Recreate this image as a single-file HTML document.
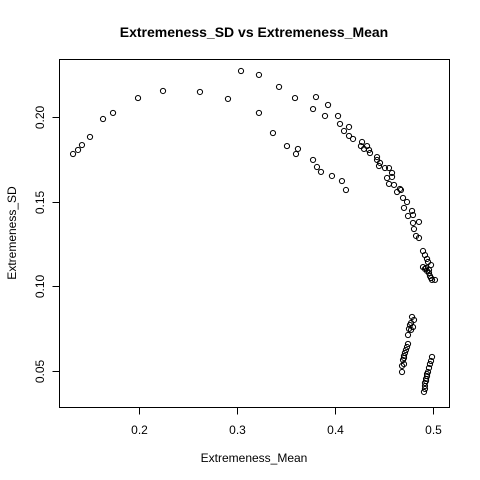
<!DOCTYPE html>
<html><head><meta charset="utf-8"><style>
html,body{margin:0;padding:0;background:#fff;}
svg{display:block;font-family:"Liberation Sans",Arial,sans-serif;}
</style></head><body>
<svg id="chart" width="480" height="480" viewBox="0 0 480 480">
<rect width="480" height="480" fill="#fff"/>
<text x="254" y="37" text-anchor="middle" font-size="14" font-weight="bold">Extremeness_SD vs Extremeness_Mean</text>
<text x="254" y="462" text-anchor="middle" font-size="12">Extremeness_Mean</text>
<text x="0" y="0" transform="translate(16,233) rotate(-90)" text-anchor="middle" font-size="12">Extremeness_SD</text>
<rect x="59.5" y="59.5" width="390" height="348" fill="none" stroke="#000" stroke-width="1"/>
<g id="xaxis"></g>
<g id="yaxis"></g>
<g id="points"></g>
</svg>
<script>
const xTicks = [0.2, 0.3, 0.4, 0.5];
const xTickLabels = ["0.2", "0.3", "0.4", "0.5"];
const yTicks = [0.05, 0.10, 0.15, 0.20];
const yTickLabels = ["0.05", "0.10", "0.15", "0.20"];
const meanValues = [
0.1327,0.1378,0.1418,0.15,0.1633,0.1735,0.199,0.2245,0.2622,0.2908,0.3041,0.3224,0.3429,0.3592,0.3224,0.3367,0.351,0.3622,0.3602,
0.3806,0.3776,0.3929,0.3898,0.4031,0.4051,0.4143,0.4092,0.4143,0.4184,0.4276,0.4265,0.4327,0.4296,0.4347,0.4357,0.4429,0.4429,0.4459,0.4449,0.451,0.4551,0.4582,0.4531,0.4582,0.4551,0.4602,0.4663,0.4633,0.4673,0.4694,0.4735,0.4704,0.4786,0.4796,0.4745,0.4796,0.4857,0.4806,0.4827,0.4857,
0.3776,0.3816,0.3857,0.3969,0.4071,0.4112,
0.4898,0.4918,0.4939,0.4949,0.498,0.4898,0.4918,0.4939,0.4959,0.4969,0.498,0.499,0.502,0.4959,0.4929,
0.4786,0.4806,0.4776,0.4765,0.4796,0.4755,0.4776,0.4745,
0.4745,0.4735,0.4724,0.4714,0.4704,0.4704,0.4694,0.4704,0.4684,0.4684,
0.499,0.498,0.4969,0.4959,0.4949,0.4939,0.4929,0.4918,0.4918,0.4918,0.4908,0.4929,0.4939];
const sdValues = [
0.1781,0.1805,0.1834,0.1882,0.1988,0.2024,0.2112,0.2154,0.2148,0.2107,0.2272,0.2249,0.2178,0.2112,0.2024,0.1905,0.1828,0.1811,0.1781,
0.2118,0.2047,0.2071,0.2006,0.2006,0.1959,0.1941,0.1917,0.1888,0.187,0.1852,0.1828,0.1828,0.1811,0.1805,0.1787,0.1763,0.1746,0.1728,0.171,0.1698,0.1698,0.1669,0.1639,0.1645,0.1604,0.1598,0.1574,0.1556,0.1568,0.1521,0.1497,0.1462,0.1444,0.142,0.1414,0.1373,0.1379,0.1337,0.1296,0.1284,
0.1746,0.1704,0.1675,0.1651,0.1621,0.1568,
0.1207,0.1183,0.116,0.1142,0.1124,0.1112,0.1101,0.1089,0.1077,0.1059,0.1047,0.1036,0.1036,0.1095,0.1107,
0.0817,0.0799,0.0781,0.0769,0.0757,0.0746,0.074,0.071,
0.0657,0.0639,0.0621,0.0604,0.0586,0.0574,0.0562,0.0538,0.0527,0.0491,
0.058,0.0556,0.0538,0.0515,0.0491,0.0467,0.045,0.0426,0.0408,0.0391,0.0373,0.0438,0.0479];

const NS = "http://www.w3.org/2000/svg";
function xScale(v){ return 139 + (v - 0.2) * 980; }
function yScale(v){ return 117 - (v - 0.2) * 1690; }
function mk(tag, attrs, parent){ const e = document.createElementNS(NS, tag); for (const k in attrs) e.setAttribute(k, attrs[k]); parent.appendChild(e); return e; }

const xg = document.getElementById('xaxis');
mk('line', {x1: xScale(xTicks[0]), x2: xScale(xTicks[xTicks.length-1]), y1: 407.5, y2: 407.5, stroke: '#000'}, xg);
xTicks.forEach((t, i) => {
  const x = Math.round(xScale(t)) + 0.5;
  const tk = mk('line', {x1: x, x2: x, y1: 407.5, y2: 414.5, stroke: '#000'}, xg);
  
  
  const lb = mk('text', {x: x, y: 434, 'text-anchor': 'middle', 'font-size': 12}, xg);
  lb.textContent = xTickLabels[i];
  
  
});
const yg = document.getElementById('yaxis');
yTicks.forEach((t, i) => {
  const y = Math.round(yScale(t)) + 0.5;
  const tk = mk('line', {x1: 52.5, x2: 59.5, y1: y, y2: y, stroke: '#000'}, yg);
  
  
  const lb = mk('text', {x: 0, y: 0, transform: 'translate(44,' + y + ') rotate(-90)', 'text-anchor': 'middle', 'font-size': 12}, yg);
  lb.textContent = yTickLabels[i];
  
  
});
const pg = document.getElementById('points');
meanValues.forEach((m, i) => {
  const c = mk('circle', {cx: xScale(m), cy: yScale(sdValues[i]), r: 2.6, fill: 'none', stroke: '#000', 'stroke-width': 1}, pg);
  
  
});
</script>
</body></html>
